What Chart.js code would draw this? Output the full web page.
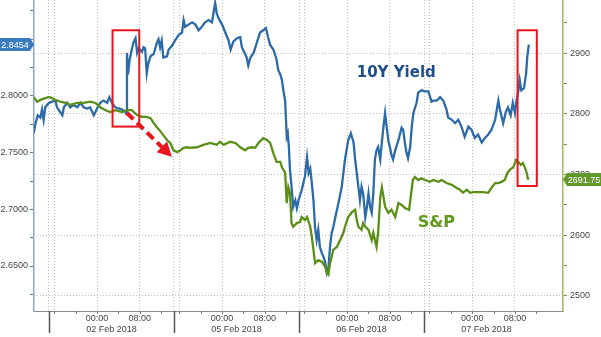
<!DOCTYPE html>
<html>
<head>
<meta charset="utf-8">
<title>10Y Yield vs S&amp;P</title>
<script src="https://cdn.jsdelivr.net/npm/chart.js@4.4.1/dist/chart.umd.min.js"></script>
<style>
  html, body { margin: 0; padding: 0; background: #fff; }
</style>
</head>
<body>
<canvas id="chart" width="601" height="337"></canvas>
<script>
/// Session timeline in hours, 02 Feb 00:00 = 0 (weekend gap removed)
const yieldHours = [
  -11.9,-11.5,-11.1,-10.6,-10.3,-10.0,-9.7,-9.0,-8.4,-7.8,
  -7.5,-7.2,-6.5,-6.2,-5.6,-5.0,-4.4,-3.7,-3.1,-2.5,
  -1.9,-1.3,-0.6,0,0.6,1.2,1.9,2.3,2.8,3.4,
  4.0,4.7,5.3,5.5,5.6,5.8,6.1,6.5,6.8,7.2,
  7.5,7.8,8.4,8.7,9.0,9.3,9.6,10.0,10.6,11.2,
  11.5,11.8,12.1,12.4,13.1,13.4,14.0,14.6,15.3,15.9,
  16.2,16.5,17.1,17.8,18.4,19.0,19.6,20.2,20.9,21.5,
  22.1,22.4,22.7,23.4,24.0,24.6,25.0,25.5,26.2,26.8,
  27.1,27.5,28.0,28.3,28.7,29.3,29.9,30.5,31.1,31.6,
  32.0,32.4,33.0,33.6,33.9,34.3,34.6,34.9,35.2,35.5,
  35.7,35.9,36.1,36.4,36.7,37.1,37.4,37.7,38.3,38.9,
  39.3,39.6,39.9,40.2,40.5,40.8,41.1,41.4,41.7,42.1,
  42.4,42.7,43.0,43.3,43.6,43.9,44.2,44.5,45.2,45.8,
  46.4,47.0,47.5,48.0,48.3,48.6,48.9,49.2,49.5,49.8,
  50.2,50.5,50.8,51.1,51.4,51.7,52.0,52.3,52.6,53.0,
  53.3,53.6,53.9,54.2,54.5,54.8,55.1,55.4,55.8,56.4,
  57.0,57.3,57.6,57.9,58.2,58.6,58.9,59.2,59.8,60.1,
  60.7,61.4,62.0,62.6,62.9,63.6,64.2,64.8,65.4,65.7,
  66.4,67.0,67.6,68.2,68.8,69.5,70.1,70.7,71.3,72.0,
  72.6,73.2,73.8,74.5,75.1,75.4,76.0,76.5,76.9,77.4,
  77.8,78.2,78.5,78.8,79.1,79.4,79.9,80.3,80.5,80.8
];
const yieldValues = [
  2.767,2.776,2.783,2.781,2.788,2.779,2.790,2.794,2.795,2.796,
  2.790,2.788,2.783,2.790,2.794,2.790,2.792,2.790,2.794,2.790,
  2.789,2.790,2.783,2.789,2.794,2.796,2.794,2.799,2.794,2.790,
  2.789,2.788,2.786,2.784,2.838,2.819,2.832,2.841,2.847,2.851,
  2.838,2.842,2.839,2.843,2.842,2.820,2.829,2.835,2.837,2.847,
  2.850,2.843,2.849,2.834,2.835,2.841,2.844,2.849,2.854,2.856,
  2.867,2.861,2.863,2.865,2.863,2.858,2.861,2.865,2.867,2.865,
  2.882,2.873,2.869,2.863,2.856,2.849,2.841,2.848,2.851,2.852,
  2.843,2.839,2.834,2.827,2.834,2.838,2.847,2.856,2.858,2.860,
  2.852,2.845,2.841,2.832,2.823,2.819,2.814,2.804,2.796,2.764,
  2.767,2.755,2.735,2.720,2.702,2.708,2.701,2.708,2.717,2.729,
  2.746,2.732,2.736,2.723,2.708,2.684,2.673,2.682,2.667,2.661,
  2.658,2.653,2.644,2.648,2.667,2.679,2.684,2.691,2.706,2.720,
  2.744,2.761,2.767,2.759,2.744,2.732,2.720,2.708,2.720,2.714,
  2.693,2.702,2.714,2.702,2.697,2.714,2.744,2.752,2.755,2.744,
  2.759,2.773,2.785,2.773,2.761,2.755,2.748,2.744,2.752,2.761,
  2.772,2.770,2.759,2.750,2.745,2.755,2.773,2.785,2.794,2.803,
  2.805,2.804,2.804,2.795,2.796,2.796,2.799,2.796,2.788,2.781,
  2.779,2.776,2.779,2.773,2.764,2.773,2.770,2.763,2.766,2.759,
  2.763,2.766,2.770,2.779,2.796,2.788,2.776,2.786,2.790,2.783,
  2.794,2.785,2.796,2.803,2.814,2.805,2.807,2.820,2.834,2.8454
];

const spxHours = [
  -11.9,-11.2,-10.6,-9.7,-9.0,-8.4,-7.8,-6.9,-5.9,-5.0,
  -3.7,-2.5,-1.3,-0.3,0.6,1.6,2.5,3.4,4.7,5.6,
  6.5,7.5,8.4,9.3,10.0,10.6,11.2,11.8,12.4,13.1,
  13.7,14.3,15.0,15.6,16.2,16.8,17.4,18.7,19.9,21.2,
  22.4,23.0,23.7,24.9,25.9,26.8,27.7,28.3,29.0,29.6,
  30.2,31.1,31.8,32.4,33.0,33.6,34.3,34.6,35.2,35.5,
  35.8,36.1,36.4,36.7,37.4,38.0,38.3,38.9,39.3,39.9,
  40.2,40.5,40.8,41.4,42.1,42.7,43.0,43.3,43.6,43.9,
  44.2,44.9,45.5,46.1,46.4,47.0,47.7,48.3,48.6,48.9,
  49.5,49.8,50.2,50.8,51.4,51.7,52.0,52.3,52.6,53.0,
  53.3,53.9,54.5,55.1,55.8,56.4,57.0,57.6,58.4,58.7,
  59.1,59.5,60.1,60.7,61.4,62.3,62.9,63.9,64.5,65.4,
  66.4,67.3,67.9,68.5,69.2,69.8,70.4,71.3,72.3,73.2,
  73.8,74.5,75.1,75.7,76.3,76.8,77.3,77.9,78.4,78.8,
  79.3,79.7,80.1,80.4,80.6,80.8
];
const spxValues = [
  2828,2820,2823,2826,2828,2826,2823,2820,2818,2815,
  2818,2818,2820,2818,2811,2806,2803,2806,2803,2806,
  2806,2798,2795,2795,2793,2785,2778,2772,2765,2757,
  2752,2740,2737,2740,2744,2745,2744,2745,2749,2752,
  2749,2754,2749,2754,2752,2745,2740,2744,2745,2744,
  2752,2760,2757,2752,2735,2721,2721,2712,2703,2653,
  2679,2670,2620,2614,2620,2622,2630,2625,2630,2614,
  2597,2576,2554,2559,2556,2548,2538,2535,2554,2564,
  2576,2581,2592,2604,2614,2630,2638,2642,2625,2614,
  2609,2620,2614,2609,2592,2604,2592,2581,2604,2663,
  2679,2647,2637,2642,2630,2653,2650,2645,2642,2663,
  2691,2696,2691,2694,2691,2688,2691,2688,2691,2686,
  2683,2678,2675,2670,2675,2670,2671,2671,2671,2670,
  2678,2686,2686,2688,2691,2703,2708,2712,2724,2721,
  2716,2719,2711,2703,2694,2691.75
];

/// Trading days: where each day's 00:00 falls on the timeline
const dayStarts = [0, 23.4, 46.8, 70.2];
const dayLabels = ["02 Feb 2018", "05 Feb 2018", "06 Feb 2018", "07 Feb 2018"];
const hourMarks = [0, 8];
const hourLabels = ["00:00", "08:00"];

const yieldTicks = [2.625, 2.65, 2.675, 2.7, 2.725, 2.75, 2.775, 2.8, 2.825, 2.85, 2.875];
const yieldLabelled = [2.65, 2.7, 2.75, 2.8];
const spxTicks = [2500, 2550, 2600, 2650, 2700, 2750, 2800, 2850, 2900, 2950];
const spxLabelled = [2500, 2600, 2700, 2800, 2900];

// ── Layout constants ────────────────────────────────────────────────

const X_MIN = -11.8, X_MAX = 87.2;
const SESSION_OPEN = -9;      // session start, hours before 00:00
const SESSION_LEN = 23.4;
const YIELD_MIN = 2.6103, YIELD_MAX = 2.8847;
const SPX_MIN = 2475.2, SPX_MAX = 2987.6;

const GRID = "#bdbdbd";
const YIELD_COLOR = "#2c6aa8";
const SPX_COLOR = "#5b8f17";
const RED = "#e8161c";
const LABEL_FONT = '9px "Liberation Sans", Arial, sans-serif';

/// Highlight boxes and arrow, in axis units (x: hours, y: yield)
const callouts = {
  boxes: [
    { x0: 2.9, x1: 7.9, y0: 2.858, y1: 2.773 },
    { x0: 78.7, x1: 82.3, y0: 2.858, y1: 2.7206 }
  ],
  arrow: { x0: 5.6, y0: 2.785, x1: 14.0, y1: 2.7464 }
};

function tickList(values) { return values.map(v => ({ value: v })); }
function has(list, v) { return list.some(t => Math.abs(t - v) < 1e-6); }

// vertical gridlines: session open, first 4h tick, 00:00 and 08:00
const xGrid = [];
dayStarts.forEach(d => xGrid.push(d + SESSION_OPEN, d - 8, d, d + 8));

// ── Time axis: tick marks, day separators, labels ───────────────────

const timeAxisPlugin = {
  id: "timeAxis",
  afterDraw(chart) {
    const { ctx, chartArea, scales: { x } } = chart;
    const y0 = chartArea.bottom;
    const px = v => Math.round(x.getPixelForValue(v)) + 0.5;
    ctx.save();
    dayStarts.forEach(d => {
      ctx.strokeStyle = "#777";
      ctx.lineWidth = 1;
      for (let h = -8; h <= 12; h += 4) {
        ctx.beginPath();
        ctx.moveTo(px(d + h), y0);
        ctx.lineTo(px(d + h), y0 + 3);
        ctx.stroke();
      }
      ctx.strokeStyle = "#555";
      ctx.lineWidth = 1.5;
      ctx.beginPath();
      ctx.moveTo(px(d + SESSION_OPEN), y0);
      ctx.lineTo(px(d + SESSION_OPEN), y0 + 22);
      ctx.stroke();
    });
    ctx.fillStyle = "#444";
    ctx.font = LABEL_FONT;
    ctx.textAlign = "center";
    ctx.textBaseline = "middle";
    dayStarts.forEach((d, i) => {
      hourMarks.forEach((h, j) => ctx.fillText(hourLabels[j], x.getPixelForValue(d + h), y0 + 8));
      ctx.fillText(dayLabels[i], x.getPixelForValue(d + SESSION_OPEN + SESSION_LEN / 2), y0 + 19);
    });
    ctx.restore();
  }
};

// ── Callouts, captions and last-value tags ──────────────────────────

/// Draw a value tag pointing at the axis (side = "left" | "right").
function valueTag(ctx, text, tipX, y, side, bg, width) {
  const h = 13, notch = 4;
  ctx.fillStyle = bg;
  ctx.beginPath();
  if (side === "left") {
    ctx.moveTo(tipX - width, y - h / 2);
    ctx.lineTo(tipX - notch, y - h / 2);
    ctx.lineTo(tipX, y);
    ctx.lineTo(tipX - notch, y + h / 2);
    ctx.lineTo(tipX - width, y + h / 2);
  } else {
    ctx.moveTo(tipX + width, y - h / 2);
    ctx.lineTo(tipX + notch, y - h / 2);
    ctx.lineTo(tipX, y);
    ctx.lineTo(tipX + notch, y + h / 2);
    ctx.lineTo(tipX + width, y + h / 2);
  }
  ctx.closePath();
  ctx.fill();
  ctx.fillStyle = "#fff";
  ctx.font = LABEL_FONT;
  ctx.textAlign = "center";
  ctx.textBaseline = "middle";
  const cx = side === "left" ? tipX - (width + notch) / 2 : tipX + (width + notch) / 2;
  ctx.fillText(text, cx, y + 0.5);
}

const calloutPlugin = {
  id: "callouts",
  afterDraw(chart) {
    const { ctx, chartArea, scales } = chart;
    const x = scales.x, yl = scales.yYield, yr = scales.ySpx;
    ctx.save();

    // red highlight boxes
    ctx.strokeStyle = RED;
    ctx.lineWidth = 2;
    callouts.boxes.forEach(b => {
      const x0 = x.getPixelForValue(b.x0), x1 = x.getPixelForValue(b.x1);
      const y0 = yl.getPixelForValue(b.y0), y1 = yl.getPixelForValue(b.y1);
      ctx.strokeRect(x0, y0, x1 - x0, y1 - y0);
    });

    // dashed arrow
    const a = callouts.arrow;
    const ax0 = x.getPixelForValue(a.x0), ay0 = yl.getPixelForValue(a.y0);
    const ax1 = x.getPixelForValue(a.x1), ay1 = yl.getPixelForValue(a.y1);
    const ang = Math.atan2(ay1 - ay0, ax1 - ax0);
    const headLen = 14, headW = 7.5;
    const bx = ax1 - headLen * Math.cos(ang), by = ay1 - headLen * Math.sin(ang);
    ctx.lineWidth = 4;
    ctx.setLineDash([9, 5]);
    ctx.beginPath();
    ctx.moveTo(ax0, ay0);
    ctx.lineTo(bx, by);
    ctx.stroke();
    ctx.setLineDash([]);
    ctx.fillStyle = RED;
    ctx.beginPath();
    ctx.moveTo(ax1, ay1);
    ctx.lineTo(bx + headW * Math.sin(ang), by - headW * Math.cos(ang));
    ctx.lineTo(bx - headW * Math.sin(ang), by + headW * Math.cos(ang));
    ctx.closePath();
    ctx.fill();

    // series captions
    ctx.font = 'bold 15px "DejaVu Sans", Verdana, sans-serif';
    ctx.textAlign = "left";
    ctx.textBaseline = "alphabetic";
    ctx.fillStyle = "#1e4d8c";
    ctx.fillText("10Y Yield", x.getPixelForValue(48.6), yl.getPixelForValue(2.8168));
    ctx.font = 'bold 16px "DejaVu Sans", Verdana, sans-serif';
    ctx.fillStyle = "#5e9a1c";
    ctx.fillText("S&P", x.getPixelForValue(60.0), yr.getPixelForValue(2613.6));

    // last-value tags on both axes
    const lastYield = yieldValues[yieldValues.length - 1];
    const lastSpx = spxValues[spxValues.length - 1];
    valueTag(ctx, lastYield.toFixed(4), chartArea.left, yl.getPixelForValue(lastYield), "left", "#3b7bbd", 34);
    valueTag(ctx, lastSpx.toFixed(2), chartArea.right, yr.getPixelForValue(lastSpx), "right", "#62992a", 38);

    ctx.restore();
  }
};

// ── Chart ───────────────────────────────────────────────────────────

const noPad = s => { s.paddingTop = 0; s.paddingBottom = 0; s.paddingLeft = 0; s.paddingRight = 0; };

new Chart(document.getElementById("chart"), {
  type: "line",
  data: {
    datasets: [
      {
        label: "S&P",
        data: spxHours.map((h, i) => ({ x: h, y: spxValues[i] })),
        yAxisID: "ySpx",
        borderColor: SPX_COLOR,
        borderWidth: 2.3,
        pointRadius: 0,
        tension: 0
      },
      {
        label: "10Y Yield",
        data: yieldHours.map((h, i) => ({ x: h, y: yieldValues[i] })),
        yAxisID: "yYield",
        borderColor: YIELD_COLOR,
        borderWidth: 2.3,
        pointRadius: 0,
        tension: 0
      }
    ]
  },
  options: {
    responsive: false,
    animation: false,
    devicePixelRatio: 1,
    layout: { padding: 0 },
    plugins: { legend: { display: false }, tooltip: { enabled: false } },
    scales: {
      x: {
        type: "linear",
        min: X_MIN,
        max: X_MAX,
        afterBuildTicks: s => { s.ticks = tickList(xGrid); },
        afterFit: s => { s.height = 26; noPad(s); },
        ticks: { display: false },
        grid: { color: GRID, drawTicks: false },
        border: { color: "#8c8c8c", dash: [1, 2] }
      },
      yYield: {
        type: "linear",
        position: "left",
        min: YIELD_MIN,
        max: YIELD_MAX,
        afterBuildTicks: s => { s.ticks = tickList(yieldTicks); },
        afterFit: s => { s.width = 34; noPad(s); },
        ticks: {
          autoSkip: false,
          padding: 2,
          color: "#444",
          font: { family: '"Liberation Sans", Arial, sans-serif', size: 9 },
          callback: v => has(yieldLabelled, v) ? v.toFixed(4) : ""
        },
        grid: { drawOnChartArea: false, tickLength: 4, tickColor: "#4b80b9" },
        border: { color: "#8aa9cc", width: 1.5 }
      },
      ySpx: {
        type: "linear",
        position: "right",
        min: SPX_MIN,
        max: SPX_MAX,
        afterBuildTicks: s => { s.ticks = tickList(spxTicks); },
        afterFit: s => { s.width = 38; noPad(s); },
        ticks: {
          autoSkip: false,
          padding: 3,
          color: "#444",
          font: { family: '"Liberation Sans", Arial, sans-serif', size: 9 },
          callback: v => has(spxLabelled, v) ? String(v) : ""
        },
        grid: {
          color: c => (c.tick && has(spxLabelled, c.tick.value)) ? GRID : "transparent",
          tickColor: "#7b9a2e",
          tickLength: 4
        },
        border: { color: "#a7b46a", width: 1.5, dash: [1, 2] }
      }
    }
  },
  plugins: [timeAxisPlugin, calloutPlugin]
});
</script>
</body>
</html>
